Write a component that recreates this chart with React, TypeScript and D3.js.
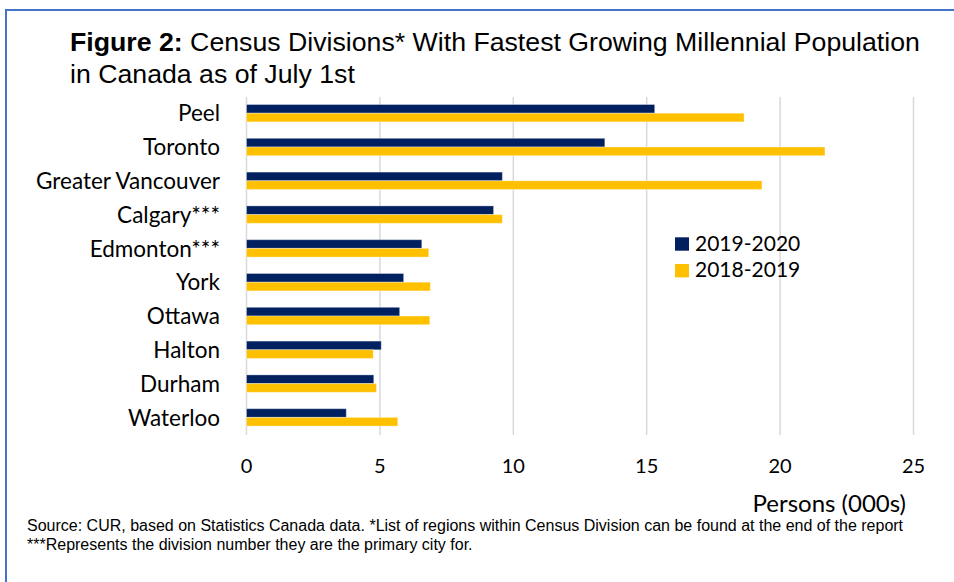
import React from "react";
import * as d3 from "d3";

const categories = ["Peel", "Toronto", "Greater Vancouver", "Calgary***", "Edmonton***", "York", "Ottawa", "Halton", "Durham", "Waterloo"];
const series = ["2019-2020", "2018-2019"];
const values2019_2020 = [15.3, 13.43, 9.59, 9.26, 6.57, 5.89, 5.74, 5.05, 4.77, 3.74];
const values2018_2019 = [18.65, 21.68, 19.32, 9.59, 6.83, 6.89, 6.87, 4.75, 4.87, 5.67];
const xTicks = [0, 5, 10, 15, 20, 25];
const colors = ["#002060", "#FFC000"];

const W = 954;
const H = 582;

export default function App() {
  const x = d3.scaleLinear().domain([0, 25]).range([246.5, 913.5]);
  const y = d3.scaleBand<string>().domain(categories).range([96.3, 434.3]).paddingInner(0.485).paddingOuter(0.2425);
  const yi = d3.scaleBand<string>().domain(series).range([0, y.bandwidth()]);
  const data = [values2019_2020, values2018_2019];
  const labelFont = "Lato, 'Open Sans', sans-serif";
  const arial = "'Liberation Sans', Arial, sans-serif";

  return (
    <svg width={W} height={H} style={{ position: "absolute", left: 0, top: 0, background: "#fff" }}>
      <rect x={0} y={0} width={W} height={H} fill="#fff" />
      {/* frame */}
      <line x1={6} y1={10} x2={W} y2={10} stroke="#4472C4" strokeWidth={2} />
      <line x1={6} y1={9} x2={6} y2={H} stroke="#4472C4" strokeWidth={2} />

      {/* title */}
      <text x={70} y={51} fontFamily={arial} fontSize={26.7} fill="#000">
        <tspan fontWeight="bold">Figure 2:</tspan>
        <tspan> Census Divisions* With Fastest Growing Millennial Population</tspan>
      </text>
      <text x={70} y={83} fontFamily={arial} fontSize={26.7} fill="#000">in Canada as of July 1st</text>

      {/* gridlines */}
      {xTicks.map((t) => (
        <line key={t} x1={x(t)} x2={x(t)} y1={97} y2={435} stroke="#d9d9d9" strokeWidth={1.5} />
      ))}

      {/* bars */}
      {categories.map((c, i) => (
        <g key={c} transform={`translate(0,${y(c)})`}>
          {series.map((s, j) => (
            <rect key={s} x={x(0)} y={yi(s)} width={x(data[j][i]) - x(0)} height={yi.bandwidth()} fill={colors[j]} stroke="#ffffff" strokeOpacity={0.35} strokeWidth={1} />
          ))}
        </g>
      ))}

      {/* category labels */}
      {categories.map((c) => (
        <text key={c} x={220} y={(y(c) as number) + y.bandwidth() / 2} dy="0.36em" textAnchor="end" fontFamily={labelFont} fontSize={22.5} fill="#000">
          {c}
        </text>
      ))}

      {/* x tick labels */}
      {xTicks.map((t) => (
        <text key={t} x={x(t)} y={473} textAnchor="middle" fontFamily={labelFont} fontSize={20} fill="#000">
          {t}
        </text>
      ))}
      <text x={906} y={512} textAnchor="end" fontFamily={labelFont} fontSize={24} fill="#000">Persons (000s)</text>

      {/* legend */}
      {series.map((s, j) => (
        <g key={s} transform={`translate(675,${237.3 + j * 26.7})`}>
          <rect x={0} y={0} width={14} height={13.4} fill={colors[j]} />
          <text x={20} y={13.4} fontFamily={labelFont} fontSize={21} fill="#000">{s}</text>
        </g>
      ))}

      {/* source */}
      <text x={27} y={531} fontFamily={arial} fontSize={16} fill="#000">
        Source: CUR, based on Statistics Canada data. *List of regions within Census Division can be found at the end of the report
      </text>
      <text x={27} y={550} fontFamily={arial} fontSize={16} fill="#000">***Represents the division number they are the primary city for.</text>
    </svg>
  );
}
